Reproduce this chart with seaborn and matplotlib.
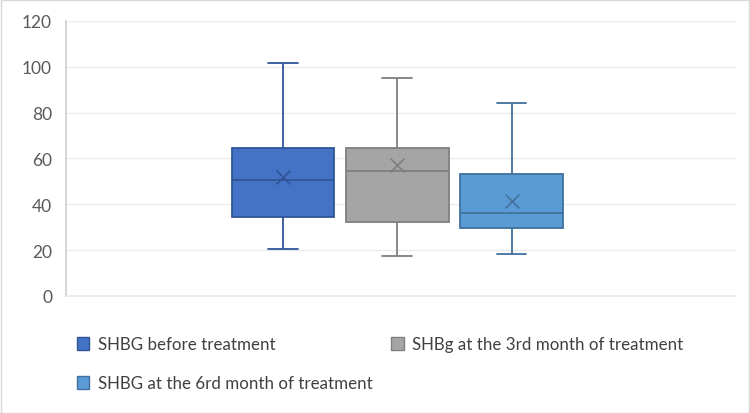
import numpy as np
import pandas as pd
import matplotlib.pyplot as plt
import matplotlib.patches as mpatches
import seaborn as sns

# five-number summaries: min, Q1, median, Q3, max
series = ["SHBG before treatment", "SHBg at the 3rd month of treatment", "SHBG at the 6rd month of treatment"]
before = [20.5, 34.2, 50.6, 64.5, 101.7]
month3 = [17.3, 32.4, 54.3, 64.6, 94.9]
month6 = [18.3, 29.4, 36.2, 53.4, 84.0]
means = [51.7, 56.9, 41.6]

fills = ["#4472C4", "#A5A5A5", "#5B9BD5"]
edges = ["#2F5597", "#7F7F7F", "#41719C"]

sns.set_theme(style="white")
plt.rcParams["font.family"] = ["Lato", "DejaVu Sans"]

df = pd.DataFrame({
    "group": "x",
    "series": np.repeat(series, 5),
    "value": before + month3 + month6,
})
mean_df = pd.DataFrame({"group": "x", "series": series, "value": means})

fig = plt.figure(figsize=(7.5, 4.14), dpi=100)
ax = fig.add_axes([0.088, 0.283, 0.893, 0.664])

sns.boxplot(data=df, x="group", y="value", hue="series", hue_order=series,
            palette=fills, saturation=1, whis=(0, 100), gap=0.1, width=0.8,
            showfliers=False, legend=False, ax=ax,
            linewidth=1.3, capwidths=0.07)

# recolour each box's lines to its own darker edge colour
for i, patch in enumerate(ax.patches[:3]):
    patch.set_edgecolor(edges[i])
lines = ax.lines
per = len(lines) // 3
for i in range(3):
    for ln in lines[i * per:(i + 1) * per]:
        ln.set_color(edges[i])

sns.stripplot(data=mean_df, x="group", y="value", hue="series", hue_order=series,
              palette=edges, dodge=True, jitter=False, marker="x", s=10,
              linewidth=1.2, legend=False, ax=ax)

ax.set_ylim(0, 120)
ax.set_yticks(range(0, 121, 20))
ax.set_xlim(-0.773, 0.79)
ax.set_xticks([])
ax.set_xlabel("")
ax.set_ylabel("")
ax.yaxis.grid(True, color="#EBEBEB", linewidth=1)
ax.set_axisbelow(True)
for s in ["top", "right"]:
    ax.spines[s].set_visible(False)
ax.spines["left"].set_color("#D0D0D0")
ax.spines["bottom"].set_color("#EBEBEB")
ax.tick_params(axis="y", labelsize=12.5, labelcolor="#595959", length=0, pad=10)

# column-major fill: first column holds items 1 and 3
order = [0, 2, 1]
handles = [mpatches.Patch(facecolor=fills[i], edgecolor=edges[i], label=series[i]) for i in order]
fig.legend(handles=handles, loc="upper left", bbox_to_anchor=(0.082, 0.222), ncol=2,
           frameon=False, fontsize=12.2, labelcolor="#404040",
           handlelength=0.75, handleheight=0.75, handletextpad=0.5,
           columnspacing=1.1, labelspacing=1.36)

fig.patches.append(mpatches.Rectangle((0.001, 0.001), 0.997, 0.997, transform=fig.transFigure,
                                      fill=False, edgecolor="#D9D9D9", linewidth=1))

fig.savefig("out.png", dpi=100)
